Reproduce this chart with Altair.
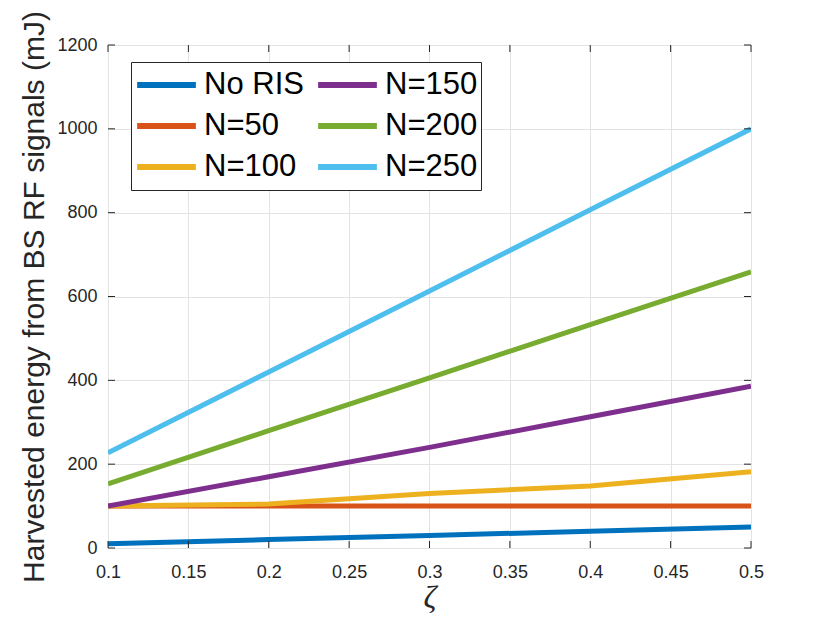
import altair as alt
import pandas as pd

zeta = [0.1, 0.2, 0.3, 0.4, 0.5]
series_names = ["No RIS", "N=50", "N=100", "N=150", "N=200", "N=250"]
no_ris = [10, 20, 30, 40, 50]
n50 = [100, 100, 100, 100, 100]
n100 = [100, 105, 130, 148, 182]
n150 = [100, 170, 240, 313, 386]
n200 = [153, 280, 406, 533, 659]
n250 = [227, 420, 613, 807, 1000]
all_values = [no_ris, n50, n100, n150, n200, n250]
colors = ["#0072BD", "#D95319", "#EDB120", "#7E2F8E", "#77AC30", "#4DBEEE"]

x_ticks = [0.1, 0.15, 0.2, 0.25, 0.3, 0.35, 0.4, 0.45, 0.5]
y_ticks = [0, 200, 400, 600, 800, 1000, 1200]

rows = []
for i, (name, vals) in enumerate(zip(series_names, all_values)):
    for z, v in zip(zeta, vals):
        rows.append({"zeta": z, "energy": v, "series": name, "order": i})
df = pd.DataFrame(rows)

W, H = 643, 503
xs = alt.Scale(domain=[0.1, 0.5], nice=False, zero=False)
ys = alt.Scale(domain=[0, 1200], nice=False)

lines = alt.Chart(df).mark_line(strokeWidth=5, clip=True).encode(
    x=alt.X("zeta:Q", scale=xs,
            axis=alt.Axis(values=x_ticks, format=".2~f", title="ζ", grid=True,
                          ticks=False, domain=False, labelFontSize=18,
                          labelPadding=15, labelColor="#262626", labelFlush=False,
                          titleFont="Liberation Serif", titleFontStyle="italic",
                          titleFontWeight="normal", titleFontSize=32,
                          titleColor="#262626", titleBaseline="alphabetic",
                          titleY=59, gridColor="#e3e3e3")),
    y=alt.Y("energy:Q", scale=ys,
            axis=alt.Axis(values=y_ticks, format="d",
                          title="Harvested energy from BS RF signals (mJ)",
                          grid=True, ticks=False, domain=False, labelFontSize=18,
                          labelPadding=11, labelColor="#262626", labelFlush=False,
                          titleFontSize=30, titleFontWeight="normal",
                          titleColor="#262626", titleBaseline="alphabetic",
                          titleX=-65, gridColor="#e3e3e3")),
    color=alt.Color("series:N",
                    scale=alt.Scale(domain=series_names, range=colors),
                    legend=alt.Legend(title=None, orient="none", legendX=23, legendY=17,
                                      columns=2, symbolType="stroke", symbolSize=3450,
                                      symbolStrokeWidth=6, labelFontSize=31,
                                      labelColor="#000000", labelOffset=5,
                                      columnPadding=11, rowPadding=1, clipHeight=40,
                                      padding=3, strokeColor="#262626",
                                      fillColor="#ffffff", labelLimit=300)),
    order=alt.Order("order:Q"),
    detail="series:N",
)

tick_x = pd.DataFrame({"v": x_ticks})
tick_y = pd.DataFrame({"v": y_ticks})
tc = "#262626"
tb = alt.Chart(tick_x).mark_rule(color=tc, strokeWidth=1).encode(
    x=alt.X("v:Q", scale=xs), y=alt.value(H), y2=alt.value(H - 7))
tt = alt.Chart(tick_x).mark_rule(color=tc, strokeWidth=1).encode(
    x=alt.X("v:Q", scale=xs), y=alt.value(0), y2=alt.value(7))
tl = alt.Chart(tick_y).mark_rule(color=tc, strokeWidth=1).encode(
    y=alt.Y("v:Q", scale=ys), x=alt.value(0), x2=alt.value(7))
tr = alt.Chart(tick_y).mark_rule(color=tc, strokeWidth=1).encode(
    y=alt.Y("v:Q", scale=ys), x=alt.value(W), x2=alt.value(W - 7))

chart = alt.layer(lines, tb, tt, tl, tr).properties(
    width=W, height=H,
    autosize=alt.AutoSizeParams(type="none"),
    padding={"left": 100, "top": 37, "right": 60, "bottom": 75},
    background="white",
).configure_view(stroke="#262626", strokeWidth=1).configure(
    font="Liberation Sans"
)

chart.save("out.html", embed_options={"renderer": "svg", "actions": False})
